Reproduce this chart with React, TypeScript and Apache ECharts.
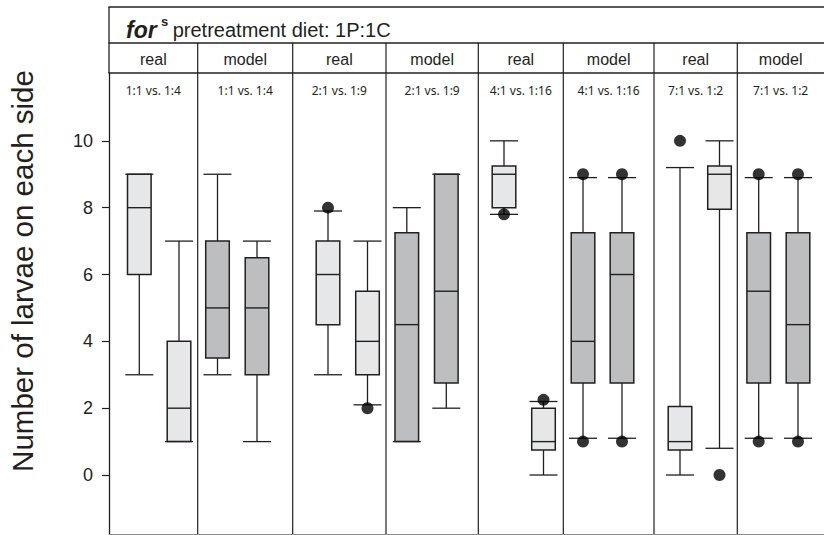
import { useEffect, useRef } from "react";
import * as echarts from "echarts";

// Panel headers
const panelLabels = ["real", "model", "real", "model", "real", "model", "real", "model"];
const comparisons = [
  "1:1 vs. 1:4", "1:1 vs. 1:4",
  "2:1 vs. 1:9", "2:1 vs. 1:9",
  "4:1 vs. 1:16", "4:1 vs. 1:16",
  "7:1 vs. 1:2", "7:1 vs. 1:2",
];

// Box statistics, two boxes per panel: [lower whisker, Q1, median, Q3, upper whisker]
const boxStats = [
  [3, 6, 8, 9, 9], [1, 1, 2, 4, 7],
  [3, 3.5, 5, 7, 9], [1, 3, 5, 6.5, 7],
  [3, 4.5, 6, 7, 7.9], [2.1, 3, 4, 5.5, 7],
  [1, 1, 4.5, 7.25, 8], [2, 2.75, 5.5, 9, 9],
  [7.8, 8, 9, 9.25, 10], [0, 0.75, 1, 2, 2.2],
  [1.1, 2.75, 4, 7.25, 8.9], [1.1, 2.75, 6, 7.25, 8.9],
  [0, 0.75, 1, 2.05, 9.2], [0.8, 7.95, 9, 9.25, 10],
  [1.1, 2.75, 5.5, 7.25, 8.9], [1.1, 2.75, 4.5, 7.25, 8.9],
];

// Outlying points: [box index, value]
const outliers = [
  [4, 8], [5, 2],
  [8, 7.8], [9, 2.25],
  [10, 1], [10, 9], [11, 1], [11, 9],
  [12, 10], [13, 0],
  [14, 1], [14, 9], [15, 1], [15, 9],
];

const yTicks = [0, 2, 4, 6, 8, 10];

// Horizontal layout along the plot width (px from the y axis)
const panelEdges = [0, 88.7, 183.7, 277, 369.3, 454.3, 545, 628.3, 715];
const boxCenters = [30.3, 70, 108.5, 148, 219, 258.5, 297.8, 337.3, 395, 434.5, 474, 513, 571, 610.5, 649.7, 689];

const INK = "#231f20";
const REAL_FILL = "#e6e7e8";
const MODEL_FILL = "#bdbec0";
const SANS = "'Liberation Sans', Arial, sans-serif";

export default function App() {
  const ref = useRef<HTMLDivElement>(null);

  useEffect(() => {
    if (!ref.current) return;
    const chart = echarts.init(ref.current, null, { renderer: "svg" });

    const boxData = boxStats.map((s, i) => [boxCenters[i], ...s, Math.floor(i / 2)]);
    const panelData = panelLabels.map((_, i) => [panelEdges[i], panelEdges[i + 1], i]);
    const outlierData = outliers.map(([b, v]) => [boxCenters[b], v]);

    chart.setOption({
      animation: false,
      grid: { left: 109, right: 0, top: 73, bottom: 1, containLabel: false },
      xAxis: {
        type: "value",
        min: 0,
        max: 715,
        axisLine: { show: true, onZero: false, lineStyle: { color: "#8a8a8a", width: 1.2 } },
        axisTick: { show: false },
        axisLabel: { show: false },
        splitLine: { show: false },
      },
      yAxis: {
        type: "value",
        min: -1.765,
        max: 12.03,
        axisLine: { show: true, lineStyle: { color: INK, width: 1.3 } },
        axisTick: { show: true, length: 7, customValues: yTicks, lineStyle: { color: INK, width: 1.2 } },
        axisLabel: {
          show: true,
          customValues: yTicks,
          margin: 16,
          color: INK,
          fontFamily: SANS,
          fontSize: 18,
        },
        splitLine: { show: false },
      },
      graphic: [
        { type: "line", shape: { x1: 108.5, y1: 7, x2: 824, y2: 7 }, style: { stroke: INK, lineWidth: 1.3 } },
        { type: "line", shape: { x1: 108.5, y1: 43, x2: 824, y2: 43 }, style: { stroke: INK, lineWidth: 1.3 } },
        { type: "line", shape: { x1: 108.5, y1: 73, x2: 824, y2: 73 }, style: { stroke: INK, lineWidth: 1.3 } },
        { type: "line", shape: { x1: 109, y1: 7, x2: 109, y2: 73 }, style: { stroke: INK, lineWidth: 1.3 } },
        {
          type: "text", x: 126, y: 41,
          style: { text: "for", font: `italic bold 23px ${SANS}`, fill: INK, verticalAlign: "bottom" },
        },
        {
          type: "text", x: 161, y: 15,
          style: { text: "s", font: `bold 13px ${SANS}`, fill: INK, verticalAlign: "top" },
        },
        {
          type: "text", x: 172.7, y: 40,
          style: { text: "pretreatment diet: 1P:1C", font: `20px ${SANS}`, fill: INK, verticalAlign: "bottom" },
        },
        {
          type: "text", x: 22, y: 271, rotation: Math.PI / 2,
          style: {
            text: "Number of larvae on each side",
            font: `29.5px ${SANS}`,
            fill: INK,
            align: "center",
            verticalAlign: "middle",
          },
        },
      ],
      series: [
        {
          type: "custom",
          name: "panels",
          data: panelData,
          encode: { x: [0, 1] },
          clip: false,
          silent: true,
          renderItem: (params: any, api: any) => {
            const left = api.coord([api.value(0), 0])[0];
            const right = api.coord([api.value(1), 0])[0];
            const idx = api.value(2);
            const cs = params.coordSys;
            const top = cs.y;
            const bottom = cs.y + cs.height;
            const cx = (left + right) / 2;
            const children: any[] = [
              {
                type: "text",
                style: {
                  text: panelLabels[idx],
                  x: cx,
                  y: top - 14,
                  align: "center",
                  verticalAlign: "middle",
                  font: `16px ${SANS}`,
                  fill: INK,
                },
              },
              {
                type: "text",
                style: {
                  text: comparisons[idx],
                  x: cx,
                  y: top + 17,
                  align: "center",
                  verticalAlign: "middle",
                  font: "12px 'Noto Sans', sans-serif",
                  fill: INK,
                },
              },
            ];
            if (idx < panelLabels.length - 1) {
              children.push({
                type: "line",
                shape: { x1: right, y1: top - 30, x2: right, y2: bottom },
                style: { stroke: INK, lineWidth: 1.2 },
              });
            }
            return { type: "group", children };
          },
          z: 1,
        },
        {
          type: "custom",
          name: "boxes",
          data: boxData,
          encode: { x: 0, y: [1, 2, 3, 4, 5] },
          renderItem: (_params: any, api: any) => {
            const x = api.value(0);
            const ys = [1, 2, 3, 4, 5].map((d) => api.coord([x, api.value(d)])[1]);
            const cx = api.coord([x, 0])[0];
            const [lo, q1, med, q3, hi] = ys;
            const half = 11.8;
            const capHalf = 14;
            const panel = api.value(6);
            const fill = panelLabels[panel] === "real" ? REAL_FILL : MODEL_FILL;
            const line = (x1: number, y1: number, x2: number, y2: number, w = 1.3) => ({
              type: "line",
              shape: { x1, y1, x2, y2 },
              style: { stroke: INK, lineWidth: w },
            });
            return {
              type: "group",
              children: [
                line(cx, hi, cx, q3),
                line(cx, q1, cx, lo),
                {
                  type: "rect",
                  shape: { x: cx - half, y: q3, width: half * 2, height: q1 - q3 },
                  style: { fill, stroke: INK, lineWidth: 1.5 },
                },
                line(cx - half, med, cx + half, med, 1.4),
                line(cx - capHalf, hi, cx + capHalf, hi),
                line(cx - capHalf, lo, cx + capHalf, lo),
              ],
            };
          },
          z: 2,
        },
        {
          type: "scatter",
          name: "outliers",
          data: outlierData,
          symbol: "circle",
          symbolSize: 12,
          itemStyle: { color: "#000000" },
          z: 3,
        },
      ],
    });

    return () => chart.dispose();
  }, []);

  return (
    <div
      ref={ref}
      style={{ position: "absolute", left: 0, top: 0, width: 824, height: 535 }}
    />
  );
}
